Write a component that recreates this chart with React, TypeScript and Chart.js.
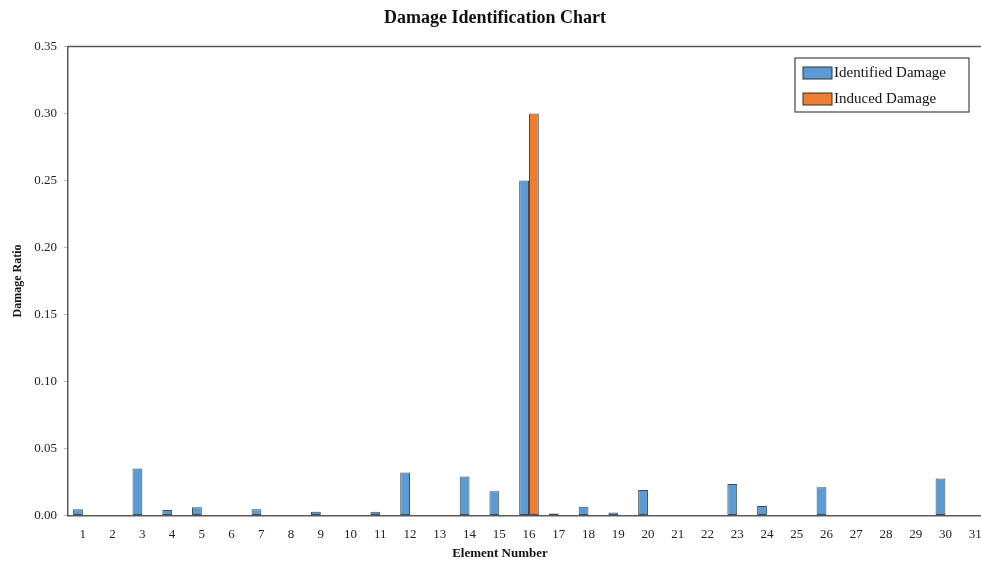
import React, { useEffect, useRef } from "react";
import { Chart, registerables } from "chart.js";

Chart.register(...registerables);

const categories: string[] = [
  "1", "2", "3", "4", "5", "6", "7", "8", "9", "10",
  "11", "12", "13", "14", "15", "16", "17", "18", "19", "20",
  "21", "22", "23", "24", "25", "26", "27", "28", "29", "30", "31",
];

const identifiedDamage: number[] = [
  0.0045, 0, 0.035, 0.004, 0.006, 0, 0.0045, 0, 0.0027, 0,
  0.0027, 0.032, 0, 0.029, 0.018, 0.25, 0.0015, 0.0065, 0.0022, 0.019,
  0, 0, 0.0234, 0.007, 0, 0.021, 0, 0, 0, 0.0276, 0,
];

const inducedDamage: number[] = [
  0, 0, 0, 0, 0, 0, 0, 0, 0, 0,
  0, 0, 0, 0, 0, 0.3, 0, 0, 0, 0,
  0, 0, 0, 0, 0, 0, 0, 0, 0, 0, 0,
];

const yTicks: number[] = [0, 0.05, 0.1, 0.15, 0.2, 0.25, 0.3, 0.35];

const FONT = "'Liberation Serif', 'Times New Roman', serif";
const AXIS = "#5a5a5a";

const framePlugin = {
  id: "frame",
  afterDraw(chart: any) {
    const { ctx, chartArea } = chart;
    ctx.save();
    ctx.strokeStyle = AXIS;
    ctx.lineWidth = 1.5;
    ctx.beginPath();
    ctx.moveTo(chartArea.left, chartArea.top);
    ctx.lineTo(chartArea.right, chartArea.top);
    ctx.lineTo(chartArea.right, chartArea.bottom);
    ctx.stroke();

    // x-axis title centered on canvas
    ctx.fillStyle = "#111";
    ctx.font = `bold 13px ${FONT}`;
    ctx.textAlign = "center";
    ctx.textBaseline = "middle";
    ctx.fillText("Element Number", chart.width / 2, 554);

    // legend box
    const bx = 795, by = 58, bw = 174, bh = 54;
    ctx.fillStyle = "#fff";
    ctx.fillRect(bx, by, bw, bh);
    ctx.strokeStyle = "#444";
    ctx.lineWidth = 1.2;
    ctx.strokeRect(bx, by, bw, bh);
    const rows = chart.data.datasets;
    rows.forEach((ds: any, i: number) => {
      const cy = 73 + i * 26;
      ctx.fillStyle = ds.backgroundColor;
      ctx.fillRect(803, cy - 6, 29, 12);
      ctx.strokeStyle = "#333";
      ctx.lineWidth = 1;
      ctx.strokeRect(803, cy - 6, 29, 12);
      ctx.fillStyle = "#111";
      ctx.font = `15px ${FONT}`;
      ctx.textAlign = "left";
      ctx.textBaseline = "middle";
      ctx.fillText(ds.label, 834, cy);
    });
    ctx.restore();
  },
};

export default function App() {
  const ref = useRef<HTMLCanvasElement | null>(null);

  useEffect(() => {
    if (!ref.current) return;
    const chart = new Chart(ref.current, {
      type: "bar",
      data: {
        labels: categories,
        datasets: [
          {
            label: "Identified Damage",
            data: identifiedDamage,
            backgroundColor: "#5B9BD5",
            borderColor: "#3f4a55",
            borderWidth: 1,
            borderSkipped: false,
          },
          {
            label: "Induced Damage",
            data: inducedDamage,
            backgroundColor: "#ED7D31",
            borderColor: "#3f4a55",
            borderWidth: 1,
            borderSkipped: false,
          },
        ],
      },
      options: {
        animation: false,
        responsive: true,
        maintainAspectRatio: false,
        layout: { padding: { left: 0, right: 10, top: 0, bottom: 14 } },
        datasets: { bar: { categoryPercentage: 0.66, barPercentage: 1 } },
        plugins: {
          legend: { display: false },
          tooltip: { enabled: false },
          title: {
            display: true,
            text: "Damage Identification Chart",
            color: "#111",
            font: { family: FONT, size: 18, weight: "bold" },
            padding: { top: 8, bottom: 17 },
          },
        },
        scales: {
          x: {
            grid: {
              drawOnChartArea: false,
              drawTicks: true,
              tickLength: 5,
              tickColor: "rgba(0,0,0,0)",
            },
            border: { display: true, color: AXIS, width: 1.5 },
            ticks: {
              color: "#222",
              font: { family: FONT, size: 13 },
              padding: 6,
              maxRotation: 0,
              autoSkip: false,
            },
          },
          y: {
            min: 0,
            max: 0.35,
            afterFit: (scale: any) => {
              scale.width = 68;
            },
            afterBuildTicks: (scale: any) => {
              scale.ticks = yTicks.map((v) => ({ value: v }));
            },
            grid: {
              drawOnChartArea: false,
              drawTicks: true,
              tickLength: 4,
              tickColor: "#bbb",
            },
            border: { display: true, color: AXIS, width: 1.5 },
            ticks: {
              color: "#222",
              font: { family: FONT, size: 13 },
              padding: 7,
              callback: (v: any) => Number(v).toFixed(2),
            },
            title: {
              display: true,
              text: "Damage Ratio",
              color: "#111",
              font: { family: FONT, size: 12, weight: "bold" },
              padding: { top: 11, bottom: 4 },
            },
          },
        },
      },
      plugins: [framePlugin],
    });
    return () => chart.destroy();
  }, []);

  return (
    <div
      style={{
        position: "fixed",
        left: 0,
        top: 0,
        width: 981,
        height: 562,
        overflow: "hidden",
        background: "#fff",
      }}
    >
      <div style={{ position: "relative", width: 1000, height: 562 }}>
        <canvas ref={ref} />
      </div>
    </div>
  );
}
